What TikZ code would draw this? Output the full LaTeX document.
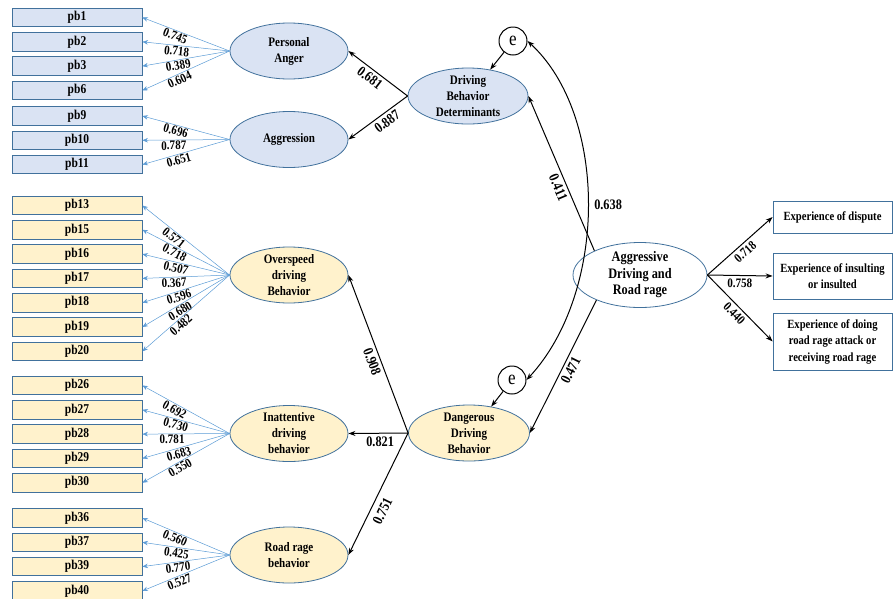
\documentclass[tikz,border=0pt]{standalone}
\usepackage{fontspec}
\setmainfont{Liberation Serif}[FakeStretch=0.85]
\usepackage{tikz}
\usetikzlibrary{positioning,arrows.meta,shapes.geometric}

\definecolor{lvblue}{HTML}{DAE3F3}
\definecolor{lvyellow}{HTML}{FFF2CC}
\definecolor{edgeblue}{HTML}{41719C}
\definecolor{loadblue}{HTML}{5B9BD5}

\begin{document}
\begin{tikzpicture}[x=1pt, y=-1pt,
      item/.style={draw=edgeblue, line width=0.8pt, minimum width=130pt, minimum height=18.5pt,
                   inner sep=0pt, font=\fontsize{13.5}{14}\selectfont\bfseries},
      bitem/.style={item, fill=lvblue},
      yitem/.style={item, fill=lvyellow},
      latent/.style={ellipse, draw=edgeblue, line width=0.8pt, minimum width=118pt, minimum height=56pt,
                     inner xsep=0pt, inner ysep=-3pt, align=center, font=\fontsize{13}{16}\selectfont\bfseries},
      errnode/.style={circle, draw, line width=1pt, minimum size=28pt, inner sep=0pt,
                      font=\fontsize{20}{20}\selectfont},
      outbox/.style={draw=edgeblue, line width=0.8pt, minimum width=119pt, align=center,
                     inner sep=2pt, font=\fontsize{12.5}{16.5}\selectfont\bfseries},
      ldarrow/.style={-{Stealth[length=5.5pt,width=4.5pt]}, loadblue, line width=0.5pt},
      arrow/.style={-{Stealth[length=7pt,width=5pt]}, line width=1pt},
      loadlab/.style={pos=0.6, sloped, below, inner sep=1pt, text=black,
                      font=\fontsize{13}{13}\selectfont\bfseries},
      coeflab/.style={sloped, below, inner sep=3pt, font=\fontsize{14.5}{14.5}\selectfont\bfseries},
      node distance=5pt
  ]
  \useasboundingbox (0,0) rectangle (895,598);

  %% ---- Indicators (left column) ----
  \node[bitem] (pb1) at (77,17.5) {pb1};
  \node[bitem, below=of pb1] (pb2) {pb2};
  \node[bitem, below=of pb2] (pb3) {pb3};
  \node[bitem, below=of pb3] (pb6) {pb6};

  \node[bitem] (pb9) at (77,116) {pb9};
  \node[bitem, below=of pb9] (pb10) {pb10};
  \node[bitem, below=of pb10] (pb11) {pb11};

  \node[yitem] (pb13) at (77,205.5) {pb13};
  \node[yitem, below=of pb13] (pb15) {pb15};
  \node[yitem, below=of pb15] (pb16) {pb16};
  \node[yitem, below=of pb16] (pb17) {pb17};
  \node[yitem, below=of pb17] (pb18) {pb18};
  \node[yitem, below=of pb18] (pb19) {pb19};
  \node[yitem, below=of pb19] (pb20) {pb20};

  \node[yitem] (pb26) at (77,385.5) {pb26};
  \node[yitem, below=of pb26] (pb27) {pb27};
  \node[yitem, below=of pb27] (pb28) {pb28};
  \node[yitem, below=of pb28] (pb29) {pb29};
  \node[yitem, below=of pb29] (pb30) {pb30};

  \node[yitem] (pb36) at (77,518) {pb36};
  \node[yitem, below=of pb36] (pb37) {pb37};
  \node[yitem, below=of pb37] (pb39) {pb39};
  \node[yitem, below=of pb39] (pb40) {pb40};

  %% ---- First-order factors ----
  \node[latent, fill=lvblue] (anger) at (289,51) {Personal\\Anger};
  \node[latent, fill=lvblue] (aggr) at (289,139.5) {Aggression};
  \node[latent, fill=lvyellow] (speed) at (289,275) {Overspeed\\driving\\Behavior};
  \node[latent, fill=lvyellow] (inatt) at (289,433.5) {Inattentive\\driving\\behavior};
  \node[latent, fill=lvyellow] (rage) at (289,555) {Road rage\\behavior};

  %% ---- Second-order factors and errors ----
  \node[latent, fill=lvblue, minimum width=120pt] (dbd) at (468,96) {Driving\\Behavior\\Determinants};
  \node[latent, fill=lvyellow, minimum width=121pt] (ddb) at (469,433) {Dangerous\\Driving\\Behavior};
  \node[errnode] (e_dbd) at (513,41) {e};
  \node[errnode] (e_ddb) at (512,380) {e};

  %% ---- Main factor and outcomes ----
  \node[latent, fill=white, minimum width=134pt, minimum height=65pt, inner ysep=-2pt,
        font=\fontsize{14.5}{16.5}\selectfont\bfseries] (adr) at (640,275)
      {Aggressive\\Driving and\\Road rage};
  \node[outbox, minimum height=32pt] (exp_dispute) at (832.5,217) {Experience of dispute};
  \node[outbox, minimum height=46pt] (exp_insult) at (832.5,276) {Experience of insulting\\or insulted};
  \node[outbox, minimum height=57pt] (exp_attack) at (832.5,341.5)
      {Experience of doing\\road rage attack or\\receiving road rage};

  %% ---- Loadings ----
  \draw[ldarrow] (anger.west) -- (pb1.east) node[loadlab] {0.745};
  \draw[ldarrow] (anger.west) -- (pb2.east) node[loadlab] {0.718};
  \draw[ldarrow] (anger.west) -- (pb3.east) node[loadlab] {0.389};
  \draw[ldarrow] (anger.west) -- (pb6.east) node[loadlab] {0.604};

  \draw[ldarrow] (aggr.west) -- (pb9.east) node[loadlab] {0.696};
  \draw[ldarrow] (aggr.west) -- (pb10.east) node[loadlab, pos=0.64] {0.787};
  \draw[ldarrow] (aggr.west) -- (pb11.east) node[loadlab] {0.651};

  \draw[ldarrow] (speed.west) -- (pb13.east) node[loadlab] {0.571};
  \draw[ldarrow] (speed.west) -- (pb15.east) node[loadlab] {0.718};
  \draw[ldarrow] (speed.west) -- (pb16.east) node[loadlab] {0.507};
  \draw[ldarrow] (speed.west) -- (pb17.east) node[loadlab, pos=0.64] {0.367};
  \draw[ldarrow] (speed.west) -- (pb18.east) node[loadlab] {0.596};
  \draw[ldarrow] (speed.west) -- (pb19.east) node[loadlab] {0.680};
  \draw[ldarrow] (speed.west) -- (pb20.east) node[loadlab] {0.482};

  \draw[ldarrow] (inatt.west) -- (pb26.east) node[loadlab] {0.692};
  \draw[ldarrow] (inatt.west) -- (pb27.east) node[loadlab] {0.730};
  \draw[ldarrow] (inatt.west) -- (pb28.east) node[loadlab, pos=0.66] {0.781};
  \draw[ldarrow] (inatt.west) -- (pb29.east) node[loadlab] {0.683};
  \draw[ldarrow] (inatt.west) -- (pb30.east) node[loadlab] {0.550};

  \draw[ldarrow] (rage.west) -- (pb36.east) node[loadlab] {0.560};
  \draw[ldarrow] (rage.west) -- (pb37.east) node[loadlab] {0.425};
  \draw[ldarrow] (rage.west) -- (pb39.east) node[loadlab] {0.770};
  \draw[ldarrow] (rage.west) -- (pb40.east) node[loadlab] {0.527};

  %% ---- Structural paths ----
  \draw[arrow] (dbd.west) -- (anger.east) node[coeflab, pos=0.55] {0.681};
  \draw[arrow] (dbd.west) -- (aggr.east) node[coeflab, pos=0.43] {0.887};
  \draw[arrow] (ddb.west) -- (speed.east) node[coeflab, pos=0.47] {0.908};
  \draw[arrow] (ddb.west) -- (inatt.east) node[coeflab, pos=0.47] {0.821};
  \draw[arrow] (ddb.west) -- (rage.east) node[coeflab, pos=0.6, inner sep=6pt] {0.751};

  \draw[arrow] (adr.152) -- (dbd.east) node[coeflab, pos=0.43] {0.411};
  \draw[arrow] (adr.210) -- (ddb.east) node[coeflab, pos=0.5] {0.471};

  \draw[arrow] (e_dbd) -- (dbd.50);
  \draw[arrow] (e_ddb) -- (ddb.50);

  % covariance of the two errors
  \draw[{Stealth[length=7pt,width=5pt]}-{Stealth[length=7pt,width=5pt]}, line width=1pt]
      (e_dbd.east) .. controls (608,115) and (608,292) .. (e_ddb.east)
      node[pos=0.5, right, inner sep=6pt, font=\fontsize{14.5}{14.5}\selectfont\bfseries] {0.638};

  % outcomes
  \draw[arrow] (adr.east) -- (exp_dispute.west) node[coeflab, pos=0.5, font=\fontsize{13}{13}\selectfont\bfseries] {0.718};
  \draw[arrow] (adr.east) -- (exp_insult.west) node[coeflab, pos=0.5, font=\fontsize{13}{13}\selectfont\bfseries] {0.758};
  \draw[arrow] (adr.east) -- (exp_attack.west) node[coeflab, pos=0.5, font=\fontsize{13}{13}\selectfont\bfseries] {0.440};

\end{tikzpicture}
\end{document}
